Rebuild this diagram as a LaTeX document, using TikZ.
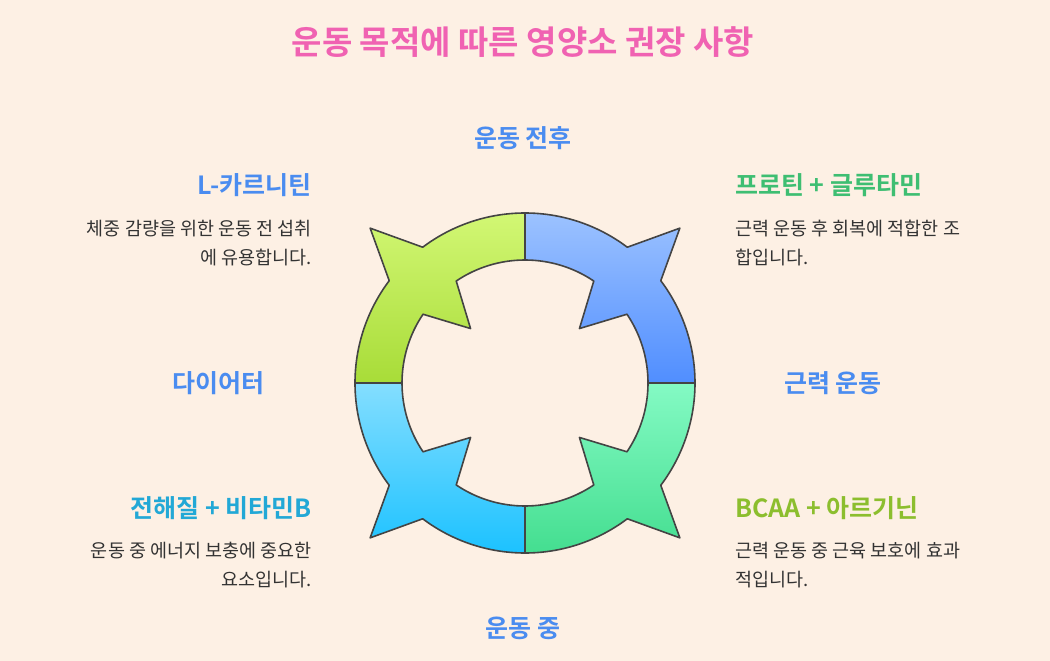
\documentclass[tikz,border=0pt]{standalone}
\usepackage{fontspec}
\setmainfont{Noto Sans CJK KR}
\newfontfamily\krb{Noto Sans CJK KR Bold}
\definecolor{bg}{HTML}{FDF0E4}
\definecolor{edge}{HTML}{444444}
\definecolor{lblue}{HTML}{4A8CF0}
\definecolor{tpink}{HTML}{F062B2}
\definecolor{hgreen}{HTML}{3EBE72}
\definecolor{hcyan}{HTML}{22A8D6}
\definecolor{holive}{HTML}{8CBE2E}
\definecolor{gA}{HTML}{D2F774}\definecolor{gB}{HTML}{A8DC38}
\definecolor{bA}{HTML}{9CC2FF}\definecolor{bB}{HTML}{508EFF}
\definecolor{mA}{HTML}{84FAC4}\definecolor{mB}{HTML}{44DE90}
\definecolor{cA}{HTML}{84DEFF}\definecolor{cB}{HTML}{1CC2FF}
\tikzset{
  part/.style={draw=edge,line width=1.6pt,line join=round},
  hd/.style={font=\krb\fontsize{25}{30}\selectfont,inner sep=0pt},
  lab/.style={font=\krb\fontsize{25}{30}\selectfont,text=lblue,inner sep=0pt},
  desc/.style={font=\fontsize{18.5}{29}\selectfont,text=black!80,inner sep=0pt}
}
\newcommand\ringpart[3]{%
  \path[part,top color=#2,bottom color=#3]
   ({#1+45}:170) arc[start angle={#1+45},end angle={#1+8},radius=170] -- (#1:219)
   -- ({#1-8}:170) arc[start angle={#1-8},end angle={#1-45},radius=170]
   -- ({#1-45}:123) arc[start angle={#1-45},end angle={#1-11},radius=123] -- (#1:77)
   -- ({#1+11}:123) arc[start angle={#1+11},end angle={#1+45},radius=123] -- cycle;}
\begin{document}
\begin{tikzpicture}[x=1pt,y=-1pt]
\fill[bg] (0,0) rectangle (1050,661);
\useasboundingbox (0,0) rectangle (1050,661);
\node[font=\krb\fontsize{33}{38}\selectfont,text=tpink] (title) at (523,42) {운동 목적에 따른 영양소 권장 사항};
\begin{scope}[shift={(525,383)},yscale=-1]
\ringpart{135}{gA}{gB}
\ringpart{45}{bA}{bB}
\ringpart{-45}{mA}{mB}
\ringpart{-135}{cA}{cB}
\end{scope}
\node[lab] (l1) at (523,138) {운동 전후};
\node[lab] (l2) at (833,383) {근력 운동};
\node[lab] (l3) at (523,628) {운동 중};
\node[lab] (l4) at (218,383) {다이어터};
\node[hd,text=lblue,anchor=east] (h1) at (312,185) {L-카르니틴};
\node[desc,anchor=north east,align=right] (d1) at (312,220) {체중 감량을 위한 운동 전 섭취\\에 유용합니다.};
\node[hd,text=hgreen,anchor=west] (h2) at (735,185) {프로틴 + 글루타민};
\node[desc,anchor=north west,align=left] (d2) at (735,220) {근력 운동 후 회복에 적합한 조\\합입니다.};
\node[hd,text=hcyan,anchor=east] (h3) at (312,508) {전해질 + 비타민B};
\node[desc,anchor=north east,align=right] (d3) at (312,542) {운동 중 에너지 보충에 중요한\\요소입니다.};
\node[hd,text=holive,anchor=west] (h4) at (735,508) {BCAA + 아르기닌};
\node[desc,anchor=north west,align=left] (d4) at (735,542) {근력 운동 중 근육 보호에 효과\\적입니다.};
\end{tikzpicture}
\end{document}
